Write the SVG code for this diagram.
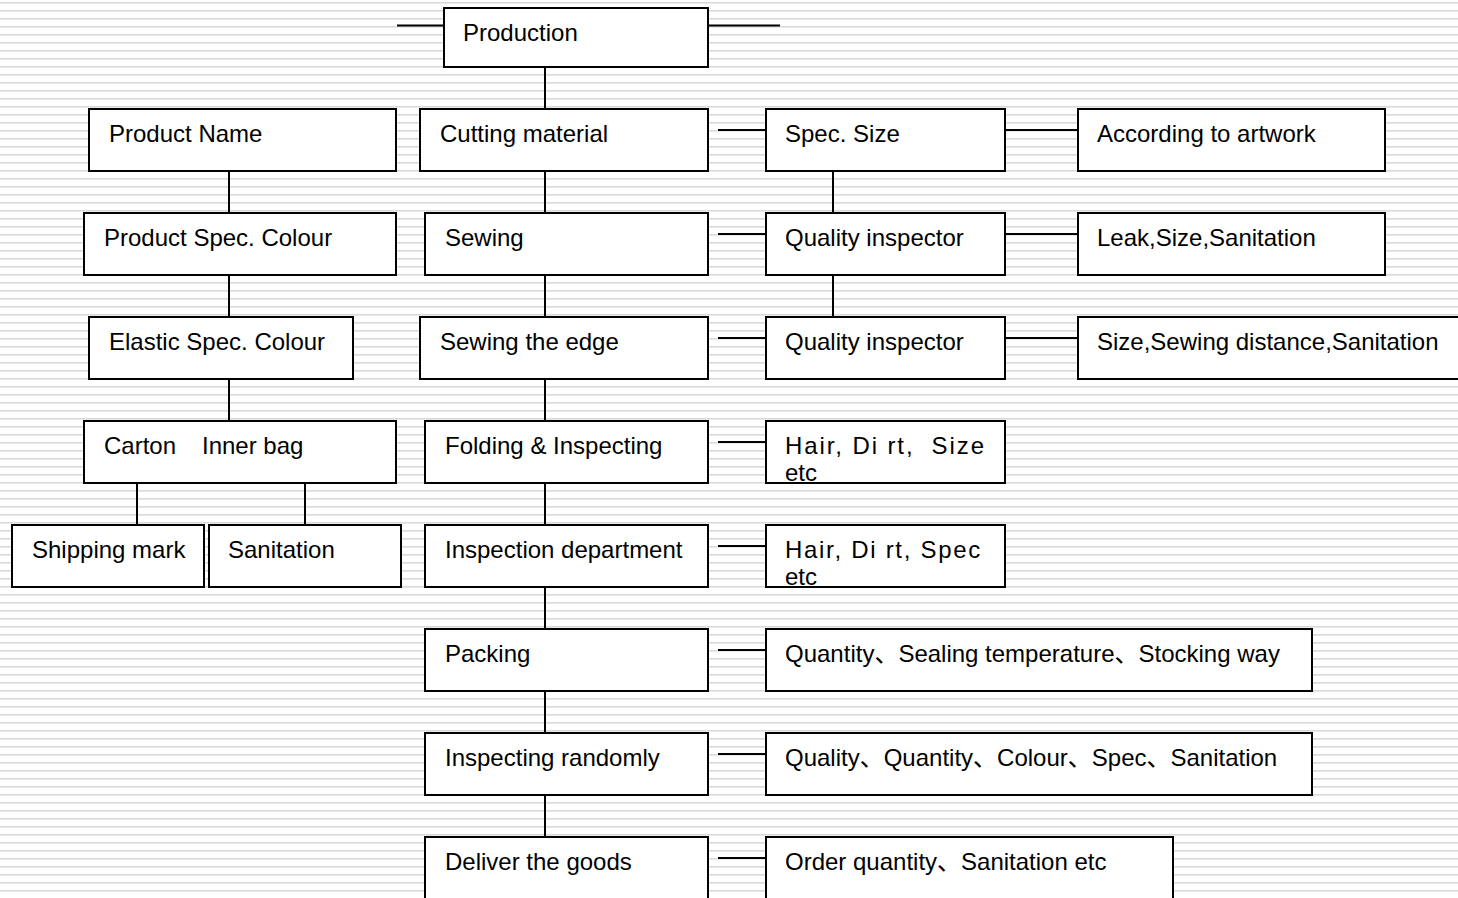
<svg xmlns="http://www.w3.org/2000/svg" width="1458" height="898" viewBox="0 0 1458 898">
<defs>
<pattern id="bg" x="0" y="0" width="1458" height="8" patternUnits="userSpaceOnUse">
<rect x="0" y="2" width="1458" height="1.6" fill="#d9d9d9"/>
</pattern>
<style>
.box{fill:#fff;stroke:#000;stroke-width:2}
.t{font-family:"Liberation Sans","Noto Sans CJK SC",Arial,sans-serif;font-size:24px;fill:#000}
.sp{letter-spacing:1.9px}
.c{stroke:#000;stroke-width:2;fill:none}
</style>
</defs>
<rect x="0" y="0" width="1458" height="898" fill="#fff"/>
<rect x="0" y="0" width="1458" height="898" fill="url(#bg)"/>

<g id="connectors">
<path class="c" d="M397 25.5H444 M708 25.5H780"/>
<path class="c" d="M545 67V109 M545 171V213 M545 275V317 M545 379V421 M545 483V525 M545 587V629 M545 691V733 M545 795V837"/>
<path class="c" d="M718 130H765 M718 234H765 M718 338H765 M718 442H765 M718 546H765 M718 650H765 M718 754H765 M718 858H765"/>
<path class="c" d="M1005 130H1078 M1005 234H1078 M1005 338H1078"/>
<path class="c" d="M833 171V213 M833 275V317"/>
<path class="c" d="M229 171V213 M229 275V317 M229 379V421 M137 483V525 M305 483V525"/>
</g>

<g id="n-production"><rect class="box" x="444" y="8" width="264" height="59"/><text class="t" x="463" y="41">Production</text></g>

<g id="n-product-name"><rect class="box" x="89" y="109" width="307" height="62"/><text class="t" x="109" y="142">Product Name</text></g>
<g id="n-cutting"><rect class="box" x="420" y="109" width="288" height="62"/><text class="t" x="440" y="142">Cutting material</text></g>
<g id="n-spec-size"><rect class="box" x="766" y="109" width="239" height="62"/><text class="t" x="785" y="142">Spec. Size</text></g>
<g id="n-artwork"><rect class="box" x="1078" y="109" width="307" height="62"/><text class="t" x="1097" y="142">According to artwork</text></g>

<g id="n-product-spec"><rect class="box" x="84" y="213" width="312" height="62"/><text class="t" x="104" y="246">Product Spec. Colour</text></g>
<g id="n-sewing"><rect class="box" x="425" y="213" width="283" height="62"/><text class="t" x="445" y="246">Sewing</text></g>
<g id="n-qi1"><rect class="box" x="766" y="213" width="239" height="62"/><text class="t" x="785" y="246">Quality inspector</text></g>
<g id="n-leak"><rect class="box" x="1078" y="213" width="307" height="62"/><text class="t" x="1097" y="246">Leak,Size,Sanitation</text></g>

<g id="n-elastic"><rect class="box" x="89" y="317" width="264" height="62"/><text class="t" x="109" y="350">Elastic Spec. Colour</text></g>
<g id="n-sewing-edge"><rect class="box" x="420" y="317" width="288" height="62"/><text class="t" x="440" y="350">Sewing the edge</text></g>
<g id="n-qi2"><rect class="box" x="766" y="317" width="239" height="62"/><text class="t" x="785" y="350">Quality inspector</text></g>
<g id="n-size-sewing"><rect class="box" x="1078" y="317" width="400" height="62"/><text class="t" x="1097" y="350">Size,Sewing distance,Sanitation</text></g>

<g id="n-carton"><rect class="box" x="84" y="421" width="312" height="62"/><text class="t" x="104" y="454">Carton<tspan x="202">Inner bag</tspan></text></g>
<g id="n-folding"><rect class="box" x="425" y="421" width="283" height="62"/><text class="t" x="445" y="454">Folding &amp; Inspecting</text></g>
<g id="n-hair1"><rect class="box" x="766" y="421" width="239" height="62"/><text class="t sp" x="785" y="454" xml:space="preserve" style="white-space:pre">Hair, Di rt,  Size</text><text class="t" x="785" y="481">etc</text></g>

<g id="n-shipping"><rect class="box" x="12" y="525" width="192" height="62"/><text class="t" x="32" y="558">Shipping mark</text></g>
<g id="n-sanitation"><rect class="box" x="209" y="525" width="192" height="62"/><text class="t" x="228" y="558">Sanitation</text></g>
<g id="n-inspection"><rect class="box" x="425" y="525" width="283" height="62"/><text class="t" x="445" y="558">Inspection department</text></g>
<g id="n-hair2"><rect class="box" x="766" y="525" width="239" height="62"/><text class="t sp" x="785" y="558" style="letter-spacing:1.7px">Hair, Di rt, Spec</text><text class="t" x="785" y="585">etc</text></g>

<g id="n-packing"><rect class="box" x="425" y="629" width="283" height="62"/><text class="t" x="445" y="662">Packing</text></g>
<g id="n-packing-check"><rect class="box" x="766" y="629" width="546" height="62"/><text class="t" x="785" y="662">Quantity、Sealing temperature、Stocking way</text></g>

<g id="n-random"><rect class="box" x="425" y="733" width="283" height="62"/><text class="t" x="445" y="766">Inspecting randomly</text></g>
<g id="n-random-check"><rect class="box" x="766" y="733" width="546" height="62"/><text class="t" x="785" y="766">Quality、Quantity、Colour、Spec、Sanitation</text></g>

<g id="n-deliver"><rect class="box" x="425" y="837" width="283" height="80"/><text class="t" x="445" y="870">Deliver the goods</text></g>
<g id="n-deliver-check"><rect class="box" x="766" y="837" width="407" height="80"/><text class="t" x="785" y="870">Order quantity、Sanitation etc</text></g>
</svg>
